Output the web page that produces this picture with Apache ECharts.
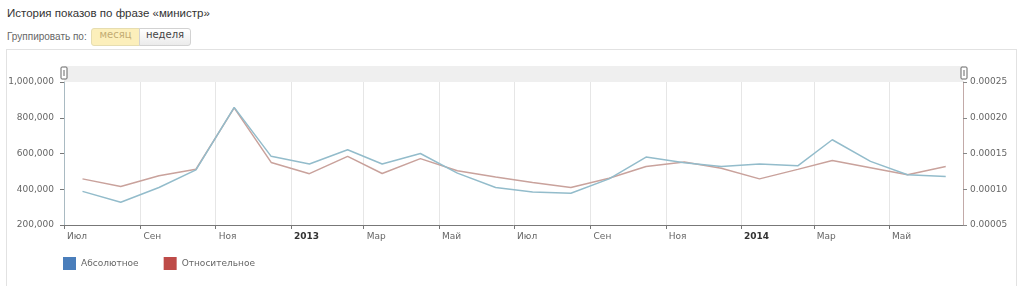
<!DOCTYPE html>
<html><head><meta charset="utf-8">
<script src="https://cdn.jsdelivr.net/npm/echarts@6/dist/echarts.min.js"></script>
<style>
html,body{margin:0;padding:0;background:#fff;width:1024px;height:286px;overflow:hidden;}
#title{position:absolute;left:7px;top:7px;font:11.5px 'Liberation Sans',Arial,sans-serif;color:#333;}
#grp{position:absolute;left:7px;top:31px;font:10px 'Liberation Sans',Arial,sans-serif;color:#666;}
.btn{position:absolute;top:28px;height:18px;line-height:16px;font:10px 'DejaVu Sans',sans-serif;text-align:center;box-sizing:border-box;}
#b1{left:91px;width:49px;background:#fcefbb;border:1px solid #e6ddb0;color:#c2ab72;border-radius:3px 0 0 3px;}
#b2{left:139px;width:52px;background:linear-gradient(#ffffff,#ebebeb);border:1px solid #d2d2d2;color:#444;border-radius:0 3px 3px 0;}
#frame{position:absolute;left:6px;top:49px;width:1011px;height:260px;border:1px solid #e2e2e2;box-sizing:border-box;}
#chart{position:absolute;left:0;top:0;width:1024px;height:286px;}
</style></head>
<body>
<div id="title">История показов по фразе «министр»</div>
<div id="grp">Группировать по:</div>
<div class="btn" id="b1">месяц</div>
<div class="btn" id="b2">неделя</div>
<div id="frame"></div>
<div id="chart"></div>
<script>
const dates = ['2012-07-16','2012-08-16','2012-09-16','2012-10-16','2012-11-16','2012-12-16',
  '2013-01-16','2013-02-16','2013-03-16','2013-04-16','2013-05-16','2013-06-16',
  '2013-07-16','2013-08-16','2013-09-16','2013-10-16','2013-11-16','2013-12-16',
  '2014-01-16','2014-02-16','2014-03-16','2014-04-16','2014-05-16','2014-06-16'];
const absolute = [388000,327000,410000,508000,858000,584000,
  541000,621000,541000,600000,490000,410000,
  385000,378000,458000,580000,548000,527000,
  541000,531000,677000,556000,481000,471000];
const relative = [0.0001145,0.0001038,0.0001188,0.0001280,0.0002138,0.0001375,
  0.0001218,0.0001460,0.0001220,0.0001428,0.0001258,0.0001170,
  0.0001095,0.0001025,0.0001155,0.0001318,0.0001380,0.0001295,
  0.0001145,0.0001278,0.0001403,0.0001300,0.0001203,0.0001318];
const monthLabels = ['Янв','Фев','Мар','Апр','Май','Июн','Июл','Авг','Сен','Окт','Ноя','Дек'];
const seriesNames = ['Абсолютное','Относительное'];
const xMin = '2012-07-01', xMax = '2014-06-30';
const leftTicks = {min:200000,max:1000000,interval:200000};
const rightTicks = {min:0.00005,max:0.00025,interval:0.00005};

const chart = echarts.init(document.getElementById('chart'), null, {renderer:'canvas'});
const DAY = 86400000;
const font = 'DejaVu Sans';
chart.setOption({
  animation:false,
  grid:{left:64,right:61,top:82,bottom:61,containLabel:false},
  legend:{
    left:63, top:257, padding:0, itemWidth:13, itemHeight:13, itemGap:25, icon:'rect',
    textStyle:{fontFamily:font,fontSize:9,color:'#666'},
    data:seriesNames
  },
  graphic:[
    {type:'rect',shape:{x:64,y:66,width:899,height:16},style:{fill:'#efefef'},z:-1},
    {type:'rect',shape:{x:61,y:67,width:6,height:12,r:1},style:{fill:'#fff',stroke:'#666',lineWidth:1}},
    {type:'line',shape:{x1:64,y1:70,x2:64,y2:76},style:{stroke:'#666',lineWidth:1}},
    {type:'rect',shape:{x:961,y:67,width:6,height:12,r:1},style:{fill:'#fff',stroke:'#666',lineWidth:1}},
    {type:'line',shape:{x1:964,y1:70,x2:964,y2:76},style:{stroke:'#666',lineWidth:1}}
  ],
  xAxis:{
    type:'time', min:xMin, max:xMax,
    minInterval:70*DAY, maxInterval:70*DAY,
    axisLine:{show:true,lineStyle:{color:'#777',width:1}},
    axisTick:{show:true,length:4,lineStyle:{color:'#777'}},
    splitLine:{show:true,lineStyle:{color:'#e6e6e6',width:1}},
    axisLabel:{
      show:true, align:'left', margin:7, padding:[0,0,0,3], showMinLabel:true, hideOverlap:false,
      fontFamily:font, fontSize:9, color:'#666',
      formatter:function(v){
        const d = new Date(v); const m = d.getMonth();
        if (m===0) return '{y|'+d.getFullYear()+'}';
        return monthLabels[m];
      },
      rich:{y:{fontFamily:font,fontSize:9,fontWeight:'bold',color:'#333'}}
    }
  },
  yAxis:[
    {type:'value', min:leftTicks.min, max:leftTicks.max, interval:leftTicks.interval,
     position:'left',
     axisLine:{show:true,lineStyle:{color:'#a9bac2',width:1}},
     axisTick:{show:true,length:4,lineStyle:{color:'#777'}},
     splitLine:{show:false},
     axisLabel:{fontFamily:font,fontSize:9,color:'#666',margin:10,
       formatter:function(v){return v.toLocaleString('en-US');}}
    },
    {type:'value', min:rightTicks.min, max:rightTicks.max, interval:rightTicks.interval,
     position:'right',
     axisLine:{show:true,lineStyle:{color:'#c2aaa8',width:1}},
     axisTick:{show:true,length:4,lineStyle:{color:'#888'}},
     splitLine:{show:false},
     axisLabel:{fontFamily:font,fontSize:9,color:'#666',margin:7,
       formatter:function(v){return v.toFixed(5);}}
    }
  ],
  series:[
    {name:seriesNames[0], type:'line', yAxisIndex:0, showSymbol:false, symbol:'none',
     itemStyle:{color:'#4a7ebb'}, lineStyle:{color:'#93bccb',width:1.5},
     data:dates.map((d,i)=>[d,absolute[i]]), z:3},
    {name:seriesNames[1], type:'line', yAxisIndex:1, showSymbol:false, symbol:'none',
     itemStyle:{color:'#be4b48'}, lineStyle:{color:'#c9a29c',width:1.5},
     data:dates.map((d,i)=>[d,relative[i]]), z:2}
  ]
});
</script>
</body></html>
